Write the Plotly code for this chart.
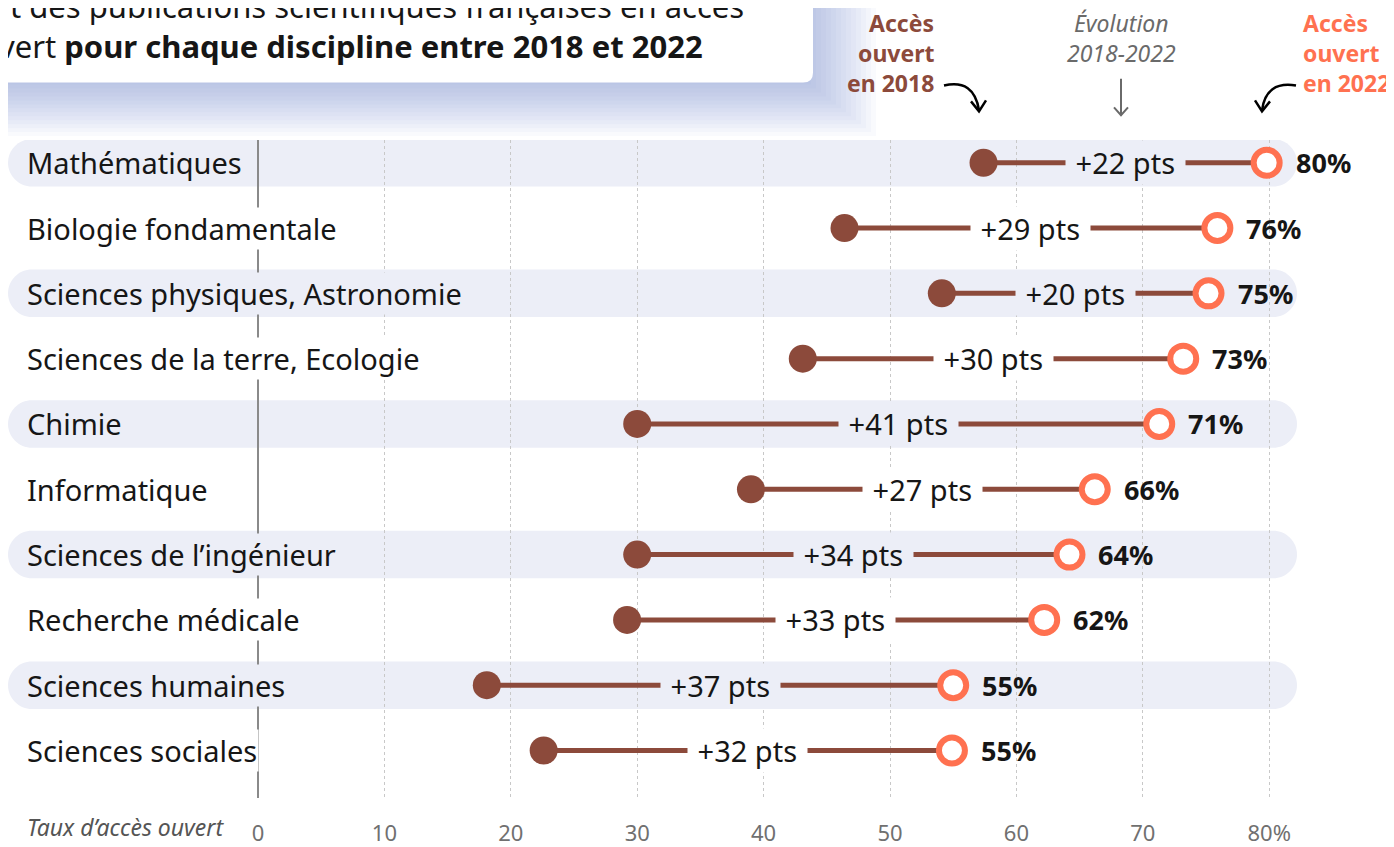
import plotly.graph_objects as go

# ------------------------------------------------------------------
# Données
# ------------------------------------------------------------------
disciplines = [
    "Mathématiques",
    "Biologie fondamentale",
    "Sciences physiques, Astronomie",
    "Sciences de la terre, Ecologie",
    "Chimie",
    "Informatique",
    "Sciences de l’ingénieur",
    "Recherche médicale",
    "Sciences humaines",
    "Sciences sociales",
]
acces_2018 = [57.4, 46.4, 54.1, 43.1, 30.0, 39.0, 30.0, 29.2, 18.1, 22.6]
acces_2022 = [79.8, 75.9, 75.2, 73.2, 71.3, 66.2, 64.2, 62.2, 55.0, 54.9]
evolution_pts = [22, 29, 20, 30, 41, 27, 34, 33, 37, 32]
x_ticks = [0, 10, 20, 30, 40, 50, 60, 70, 80]
x_tick_labels = ["0", "10", "20", "30", "40", "50", "60", "70", "80%"]

# ------------------------------------------------------------------
# Style
# ------------------------------------------------------------------
BRUN = "#8c4a3b"
ORANGE = "#ff7150"
BANDE = "#eceef7"
TEXTE = "#161616"
GRIS = "#6a6a6a"
FONT = "Noto Sans"
NBSP = "\u00a0"

# la page ajoute une marge de 8 px autour du graphique
OFF = 8
W, H = 1394 - OFF, 847 - OFF
PLOT_L, PLOT_R, PLOT_T, PLOT_B = 8, 1297, 140, 805   # en pixels de la page
M_L, M_R = PLOT_L - OFF, W - (PLOT_R - OFF)
M_T, M_B = PLOT_T - OFF, H - (PLOT_B - OFF)
X_RANGE = [-19.78, 82.2]
Y_RANGE = [9.727, -0.348]


def px_x(p):
    return (p - PLOT_L) / (PLOT_R - PLOT_L)


def px_y(p):
    return (PLOT_B - p) / (PLOT_B - PLOT_T)


fig = go.Figure()

# lignes d'évolution
lx, ly = [], []
for i, (a, b) in enumerate(zip(acces_2018, acces_2022)):
    lx += [a, b, None]
    ly += [i, i, None]
fig.add_trace(go.Scatter(x=lx, y=ly, mode="lines", line=dict(color=BRUN, width=5),
                         hoverinfo="skip", showlegend=False))

rows = list(range(len(disciplines)))
fig.add_trace(go.Scatter(x=acces_2018, y=rows, mode="markers",
                         marker=dict(color=BRUN, size=28, line=dict(width=0)),
                         name="2018", showlegend=False))
fig.add_trace(go.Scatter(x=acces_2022, y=rows, mode="markers",
                         marker=dict(color="white", size=26, line=dict(color=ORANGE, width=6)),
                         name="2022", showlegend=False))

shapes = []
annotations = []

# bandes arrondies une ligne sur deux
L, R = X_RANGE
rx, h, k = 1.9, 0.364, 0.5523
for i in rows:
    fond = BANDE if i % 2 == 0 else "white"
    if i % 2 == 0:
        yt, yb = i - h, i + h
        path = (
            f"M {L+rx},{yt} L {R-rx},{yt} "
            f"C {R-rx+k*rx},{yt} {R},{i-k*h} {R},{i} "
            f"C {R},{i+k*h} {R-rx+k*rx},{yb} {R-rx},{yb} "
            f"L {L+rx},{yb} "
            f"C {L+rx-k*rx},{yb} {L},{i+k*h} {L},{i} "
            f"C {L},{i-k*h} {L+rx-k*rx},{yt} {L+rx},{yt} Z"
        )
        shapes.append(dict(type="path", path=path, xref="x", yref="y",
                           fillcolor=BANDE, line=dict(width=0), layer="below"))

    # libellé de la discipline
    annotations.append(dict(x=-18.45, y=i, xref="x", yref="y", text=disciplines[i],
                            xanchor="left", yanchor="middle", showarrow=False,
                            bgcolor=fond, borderpad=1,
                            font=dict(family=FONT, size=29, color=TEXTE)))
    # évolution au milieu
    annotations.append(dict(x=(acces_2018[i] + acces_2022[i]) / 2, y=i, xref="x", yref="y",
                            text=f"{NBSP}+{evolution_pts[i]} pts{NBSP}", showarrow=False,
                            yanchor="middle", bgcolor=fond, borderpad=2,
                            font=dict(family=FONT, size=29, color=TEXTE)))
    # valeur 2022
    annotations.append(dict(x=acces_2022[i], y=i, xref="x", yref="y", xshift=27,
                            text=f"<b>{round(acces_2022[i])}%</b>", xanchor="left",
                            yanchor="middle", showarrow=False,
                            font=dict(family=FONT, size=27, color=TEXTE)))

# encadré du titre avec ombre douce
for j in range(14, 0, -1):
    shapes.append(dict(type="rect", xref="paper", yref="paper",
                       x0=px_x(-40), x1=px_x(806 + 5 * j), y0=px_y(-30), y1=px_y(80 + 4 * j),
                       fillcolor="rgba(125,140,200,0.045)", line=dict(width=0), layer="below"))
shapes.append(dict(type="path", xref="paper", yref="paper",
                   path=(f"M {px_x(-40)},{px_y(-30)} L {px_x(813)},{px_y(-30)} "
                         f"L {px_x(813)},{px_y(72)} Q {px_x(813)},{px_y(82)} {px_x(803)},{px_y(82)} "
                         f"L {px_x(-40)},{px_y(82)} Z"),
                   fillcolor="white", line=dict(width=0), layer="below"))
annotations.append(dict(x=px_x(-41), y=px_y(25), xref="paper", yref="paper",
                        text=("Part des publications scientifiques françaises en accès<br>"
                              "ouvert <b>pour chaque discipline entre 2018 et 2022</b>"),
                        xanchor="left", yanchor="middle", align="left", showarrow=False,
                        font=dict(family=FONT, size=31, color=TEXTE)))

# en-têtes
for j, ligne in enumerate(["<b>Accès</b>", "<b>ouvert</b>", "<b>en 2018</b>"]):
    annotations.append(dict(x=px_x(936), y=px_y(22 + 30 * j), xref="paper", yref="paper",
                            text=ligne, xanchor="right", yanchor="middle", showarrow=False,
                            font=dict(family=FONT, size=23, color=BRUN)))
for j, ligne in enumerate(["<i>Évolution</i>", "<i>2018-2022</i>"]):
    annotations.append(dict(x=px_x(1121), y=px_y(22 + 30 * j), xref="paper", yref="paper",
                            text=ligne, xanchor="center", yanchor="middle", showarrow=False,
                            font=dict(family=FONT, size=23, color=GRIS)))
for j, ligne in enumerate(["<b>Accès</b>", "<b>ouvert</b>", "<b>en 2022</b>"]):
    annotations.append(dict(x=px_x(1301), y=px_y(22 + 30 * j), xref="paper", yref="paper",
                            text=ligne, xanchor="left", yanchor="middle", showarrow=False,
                            font=dict(family=FONT, size=23, color=ORANGE)))


def fleche(path_pts, color, width=2.5):
    return dict(type="path", xref="paper", yref="paper", path=path_pts,
                line=dict(color=color, width=width), layer="above")


def p(x, y):
    return f"{px_x(x)},{px_y(y)}"


shapes.append(fleche(f"M {p(944, 85)} Q {p(974, 78)} {p(979, 110)}", "black"))
shapes.append(fleche(f"M {p(971, 101)} L {p(979, 111)} L {p(986, 100)}", "black"))
shapes.append(fleche(f"M {p(1296, 85)} Q {p(1266, 80)} {p(1262, 110)}", "black"))
shapes.append(fleche(f"M {p(1255, 100)} L {p(1262, 111)} L {p(1270, 101)}", "black"))
shapes.append(fleche(f"M {p(1121, 78)} L {p(1121, 115)}", GRIS, 2))
shapes.append(fleche(f"M {p(1114, 107)} L {p(1121, 115)} L {p(1128, 107)}", GRIS, 2))

annotations.append(dict(x=px_x(226), y=px_y(834), xref="paper", yref="paper",
                        text="<i>Taux d’accès ouvert</i>", xanchor="right", yanchor="middle",
                        showarrow=False, font=dict(family=FONT, size=23, color="#555555")))

fig.update_layout(
    width=W, height=H,
    margin=dict(l=M_L, r=M_R, t=M_T, b=M_B),
    paper_bgcolor="white", plot_bgcolor="white",
    shapes=shapes, annotations=annotations,
    showlegend=False,
)
fig.update_xaxes(range=X_RANGE, tickvals=x_ticks, ticktext=x_tick_labels,
                 showgrid=True, gridcolor="#c8c8c8", griddash="dot", gridwidth=1,
                 zeroline=True, zerolinecolor="#8a8a8a", zerolinewidth=1.5,
                 ticks="", ticklabelstandoff=20, showline=False,
                 tickfont=dict(family=FONT, size=22, color="#707070"), fixedrange=True)
fig.update_yaxes(range=Y_RANGE, showgrid=False, zeroline=False, showticklabels=False,
                 showline=False, fixedrange=True)

fig.write_html("out.html")
